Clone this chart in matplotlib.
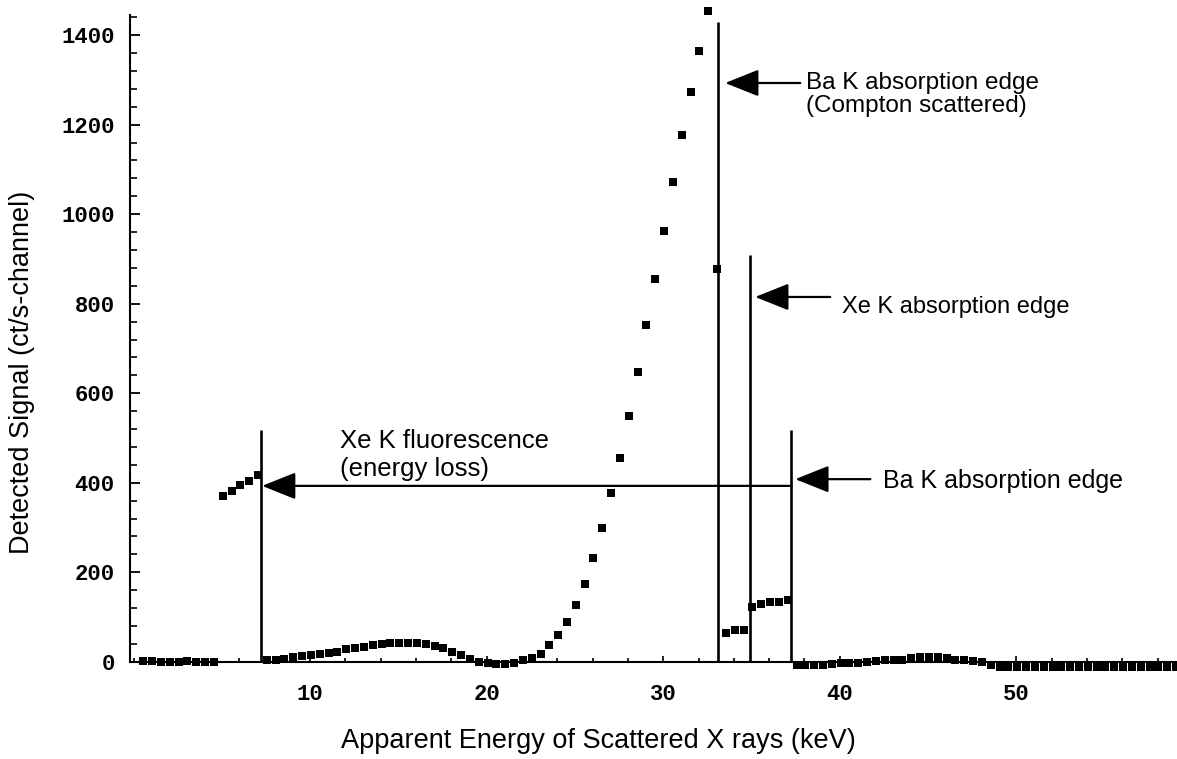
import matplotlib
matplotlib.use("Agg")
import matplotlib.pyplot as plt
from matplotlib.ticker import MultipleLocator

# channel energies (keV) and detected signal (ct/s-channel)
energy = [
    0.55, 1.05, 1.55, 2.05, 2.55, 3.05, 3.55, 4.05, 4.55,
    5.05, 5.55, 6.05, 6.55, 7.05,
    7.55, 8.05, 8.55, 9.05, 9.55, 10.05, 10.55, 11.05, 11.55, 12.05,
    12.55, 13.05, 13.55, 14.05, 14.55, 15.05, 15.55, 16.05, 16.55, 17.05,
    17.55, 18.05, 18.55, 19.05, 19.55, 20.05, 20.55, 21.05, 21.55, 22.05,
    22.55, 23.05, 23.55, 24.05, 24.55, 25.05, 25.55, 26.05, 26.55, 27.05,
    27.55, 28.05, 28.55, 29.05, 29.55, 30.05, 30.55, 31.05, 31.55, 32.05,
    32.55, 33.05,
    33.55, 34.05, 34.55, 35.05, 35.55, 36.05, 36.55, 37.05,
    37.55, 38.05, 38.55, 39.05, 39.55, 40.05, 40.55, 41.05, 41.55, 42.05,
    42.55, 43.05, 43.55, 44.05, 44.55, 45.05, 45.55, 46.05, 46.55, 47.05,
    47.55, 48.05, 48.55, 49.05, 49.55, 50.05, 50.55, 51.05, 51.55, 52.05,
    52.55, 53.05, 53.55, 54.05, 54.55, 55.05, 55.55, 56.05, 56.55, 57.05,
    57.55, 58.05, 58.55, 59.05,
]
signal = [
    1, 1, 0, 0, 0, 1, 0, 0, 0,
    370, 382, 394, 405, 418,
    3, 4, 7, 10, 13, 16, 18, 20, 23, 28,
    31, 34, 38, 40, 41, 41, 41, 41, 40, 35,
    30, 22, 16, 6, -1, -2, -4, -5, -2, 3,
    8, 18, 37, 60, 89, 128, 174, 233, 300, 378,
    456, 548, 647, 752, 855, 962, 1072, 1177, 1273, 1365,
    1454, 877,
    65, 70, 70, 123, 130, 133, 133, 139,
    -7, -7, -7, -7, -6, -3, -2, -2, -1, 2,
    3, 3, 4, 8, 10, 10, 10, 9, 5, 3,
    2, 0, -8, -11, -12, -12, -12, -12, -12, -12,
    -12, -12, -12, -12, -12, -12, -12, -12, -12, -12,
    -12, -12, -12, -12,
]

# vertical marker lines: position (keV) and height
edge_pos = [7.22, 33.12, 34.93, 37.25]
edge_top = [518, 1429, 909, 518]

fig = plt.figure(figsize=(11.77, 7.59), dpi=100)
ax = fig.add_axes([130 / 1177, 86 / 759, 1047 / 1177, 667 / 759])

ax.plot(energy, signal, "s", color="black", markersize=5.8, markeredgewidth=0)
ax.vlines(edge_pos, 0, edge_top, color="black", linewidth=1.9)

ax.set_xlim(-0.2, 59.1)
ax.set_ylim(-25, 1465)

for side in ["top", "right"]:
    ax.spines[side].set_visible(False)
ax.spines["bottom"].set_position(("data", 0))
ax.spines["left"].set_bounds(0, 1445)
ax.spines["bottom"].set_linewidth(1.5)
ax.spines["left"].set_linewidth(1.5)

ax.xaxis.set_major_locator(MultipleLocator(10))
ax.xaxis.set_minor_locator(MultipleLocator(2))
ax.yaxis.set_major_locator(MultipleLocator(200))
ax.yaxis.set_minor_locator(MultipleLocator(40))
ax.set_xticks([10, 20, 30, 40, 50])
ax.tick_params(axis="x", which="major", direction="in", length=4, width=1.2, pad=16)
ax.tick_params(axis="x", which="minor", direction="in", length=3, width=1.2)
ax.tick_params(axis="y", which="major", direction="in", length=7, width=1.3, pad=11)
ax.tick_params(axis="y", which="minor", direction="in", length=5, width=1.2)
for lab in ax.get_xticklabels() + ax.get_yticklabels():
    lab.set_fontfamily("Liberation Mono")
    lab.set_fontweight("bold")
    lab.set_fontsize(16)

fig.text(598 / 1177, 1 - 741 / 759, "Apparent Energy of Scattered X rays (keV)",
         family="Liberation Sans", fontsize=19.5, ha="center", va="center")
fig.text(22 / 1177, 1 - 372 / 759, "Detected Signal (ct/s-channel)",
         family="Liberation Sans", fontsize=19.5, ha="center", va="center", rotation=90)

arrow = dict(arrowstyle="-|>,head_length=1.05,head_width=0.42", mutation_scale=20,
             color="black", lw=1.6, shrinkA=0, shrinkB=0)
ax.annotate("", xy=(33.51, 1293), xytext=(37.76, 1293), arrowprops=arrow)
ax.annotate("", xy=(35.21, 815), xytext=(39.46, 815), arrowprops=arrow)
ax.annotate("", xy=(37.48, 408), xytext=(41.73, 408), arrowprops=arrow)
ax.annotate("", xy=(7.28, 393), xytext=(37.25, 393), arrowprops=arrow)

txt = dict(family="Liberation Sans", ha="left", va="center")
ax.text(38.1, 1267, "Ba K absorption edge\n(Compton scattered)", fontsize=17.5,
        linespacing=1.05, **txt)
ax.text(40.14, 792, "Xe K absorption edge", fontsize=17, **txt)
ax.text(42.46, 404, "Ba K absorption edge", fontsize=18, **txt)
ax.text(11.7, 462, "Xe K fluorescence\n(energy loss)", fontsize=18.5, **txt)

fig.savefig("out.png", dpi=100)
